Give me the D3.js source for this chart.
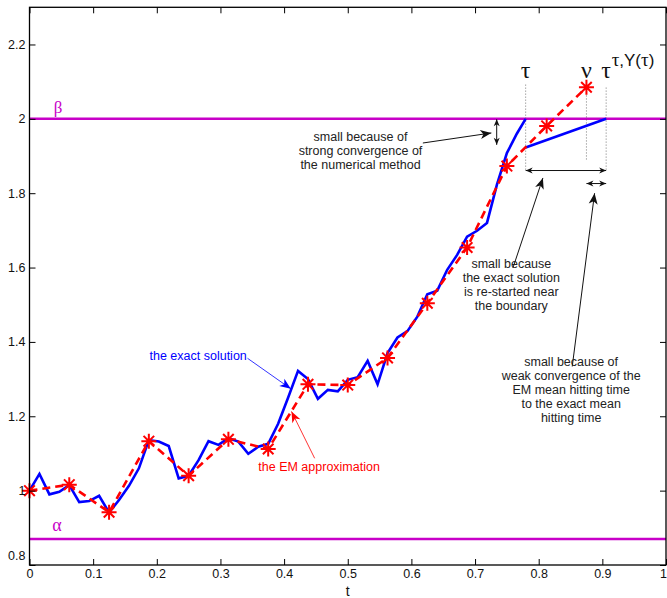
<!DOCTYPE html>
<html>
<head>
<meta charset="utf-8">
<script src="https://cdn.jsdelivr.net/npm/d3@7"></script>
<style>
  body { margin: 0; background: #fff; }
  svg { display: block; font-family: "Liberation Sans", Arial, Helvetica, sans-serif; }
</style>
</head>
<body>
<div id="general"></div>
<script>
const w = 667, h = 598;
const m = { l: 29.5, r: 1, t: 7.3, b: 33 };
m.w = w - m.l - m.r;
m.h = h - m.t - m.b;

// axes
const xTicks = [0, 0.1, 0.2, 0.3, 0.4, 0.5, 0.6, 0.7, 0.8, 0.9, 1];
const yTicks = [0.8, 1, 1.2, 1.4, 1.6, 1.8, 2, 2.2];

// boundaries
const alpha = 0.87;
const beta = 2;

// exact solution, sampled every 1/64
const exactDt = 1 / 64;
const exactY = [1.000, 1.045, 0.990, 0.997, 1.015, 0.969, 0.972, 0.986, 0.941, 0.975,
                1.013, 1.060, 1.136, 1.132, 1.120, 1.033, 1.040, 1.082, 1.133, 1.123,
                1.141, 1.132, 1.099, 1.118, 1.126, 1.180, 1.250, 1.322, 1.300, 1.247,
                1.271, 1.267, 1.298, 1.305, 1.349, 1.286, 1.370, 1.412, 1.429, 1.468,
                1.528, 1.538, 1.594, 1.634, 1.683, 1.699, 1.720, 1.823, 1.908, 1.960];
const tau = 0.7795;          // exact hitting time
// exact solution re-started near the boundary
const restartT = [0.7795, 0.906];
const restartY = [1.923, 2.0];

// EM approximation, step 1/16
const emDt = 1 / 16;
const emY = [1.000, 1.016, 0.942, 1.133, 1.040, 1.138, 1.112, 1.286, 1.284, 1.357,
             1.504, 1.654, 1.873, 1.981, 2.085];
const nu = 0.875;            // EM hitting time
const tauRestart = 0.906;    // hitting time of restarted solution

function setup() {
  const svg = d3.select("#general").append("svg").attr("width", w).attr("height", h);

  const x = d3.scaleLinear().domain([0, 1]).range([m.l, m.l + m.w]);
  const y = d3.scaleLinear().domain([0.8, 2.3]).range([m.t + m.h, m.t]);

  const defs = svg.append("defs");
  const mk = (id, col) => defs.append("marker").attr("id", id)
    .attr("viewBox", "-12 -6 14 12").attr("refX", 0).attr("refY", 0)
    .attr("markerWidth", 14).attr("markerHeight", 12).attr("markerUnits", "userSpaceOnUse")
    .attr("orient", "auto-start-reverse")
    .append("path").attr("d", "M0,0 L-11,-4.5 L-8,0 L-11,4.5 Z").attr("fill", col);
  mk("ak", "#111");
  mk("ab", "#0000ff");
  mk("ar", "#ff0000");
  defs.append("marker").attr("id", "sk")
    .attr("viewBox", "-8 -4 9 8").attr("refX", 0).attr("refY", 0)
    .attr("markerWidth", 9).attr("markerHeight", 8).attr("markerUnits", "userSpaceOnUse")
    .attr("orient", "auto-start-reverse")
    .append("path").attr("d", "M0,0 L-7,-3 L-5,0 L-7,3 Z").attr("fill", "#111");

  // boundaries
  svg.append("g").selectAll("line").data([alpha, beta]).join("line")
    .attr("x1", x(0)).attr("x2", x(1)).attr("y1", d => y(d)).attr("y2", d => y(d))
    .attr("stroke", "#c800c8").attr("stroke-width", 2.5);
  svg.append("text").attr("x", x(0.045)).attr("y", y(beta) - 6)
    .attr("text-anchor", "middle").attr("font-family", "Liberation Serif, serif")
    .attr("font-size", 17).attr("fill", "#c800c8").text("β");
  svg.append("text").attr("x", x(0.043)).attr("y", y(alpha) - 8)
    .attr("text-anchor", "middle").attr("font-family", "Liberation Serif, serif")
    .attr("font-size", 18).attr("fill", "#c800c8").text("α");

  // dotted time markers
  const dots = [[tau, 2.092, 1.862], [nu, 2.079, 1.890], [tauRestart, 2.084, 1.862]];
  svg.append("g").selectAll("line").data(dots).join("line")
    .attr("x1", d => x(d[0])).attr("x2", d => x(d[0]))
    .attr("y1", d => y(d[1])).attr("y2", d => y(d[2]))
    .attr("stroke", "#555").attr("stroke-width", 0.8).attr("stroke-dasharray", "1,2");

  const line = d3.line().x(d => x(d[0])).y(d => y(d[1]));
  const exactPts = exactY.map((v, i) => [i * exactDt, v]).concat([[tau, beta]]);
  const emPts = emY.map((v, i) => [i * emDt, v]);

  svg.append("path").attr("d", line(exactPts)).attr("fill", "none")
    .attr("stroke", "#0000ff").attr("stroke-width", 2.6).attr("stroke-linejoin", "miter");
  svg.append("path").attr("d", line(restartT.map((t, i) => [t, restartY[i]]))).attr("fill", "none")
    .attr("stroke", "#0000ff").attr("stroke-width", 2.6);

  svg.append("path").attr("d", line(emPts)).attr("fill", "none")
    .attr("stroke", "#ff0000").attr("stroke-width", 2.6).attr("stroke-dasharray", "8,5");

  const r = 7.5, dd = 5.3;
  svg.append("g").selectAll("path").data(emPts).join("path")
    .attr("d", d => {
      const cx = x(d[0]), cy = y(d[1]);
      return `M${cx - r},${cy}h${2 * r}M${cx},${cy - r}v${2 * r}` +
        `M${cx - dd},${cy - dd}l${2 * dd},${2 * dd}M${cx - dd},${cy + dd}l${2 * dd},${-2 * dd}`;
    })
    .attr("stroke", "#ff0000").attr("stroke-width", 2);

  // annotation arrows [t1, y1, t2, y2, colour, marker, double, width]
  const arrows = [
    [0.618, 1.935, 0.7256, 1.962, "#111", "ak", false, 1],
    [0.7340, 1.999, 0.7340, 1.930, "#111", "sk", true, 1],
    [tau, 1.861, tauRestart, 1.861, "#111", "sk", true, 1],
    [nu, 1.826, tauRestart, 1.826, "#111", "sk", true, 1],
    [0.7595, 1.599, 0.8066, 1.841, "#111", "ak", false, 1],
    [0.8527, 1.334, 0.8878, 1.800, "#111", "ak", false, 1],
    [0.3425, 1.356, 0.4105, 1.274, "#0000ff", "ab", false, 0.8],
    [0.4480, 1.087, 0.4116, 1.213, "#ff0000", "ar", false, 0.8]
  ];
  svg.append("g").selectAll("line").data(arrows).join("line")
    .attr("x1", d => x(d[0])).attr("y1", d => y(d[1]))
    .attr("x2", d => x(d[2])).attr("y2", d => y(d[3]))
    .attr("stroke", d => d[4]).attr("stroke-width", d => d[7])
    .attr("marker-end", d => `url(#${d[5]})`)
    .attr("marker-start", d => d[6] ? `url(#${d[5]})` : null);

  // annotation texts
  const notes = [
    { t: 0.52, y: 1.952, c: "#222", lines: ["small because of", "strong convergence of", "the numerical method"] },
    { t: 0.757, y: 1.610, c: "#222", lines: ["small because", "the exact solution", "is re-started near", "the boundary"] },
    { t: 0.851, y: 1.346, c: "#222", lines: ["small because of", "weak convergence of the", "EM mean hitting time", "to the exact mean", "hitting time"] },
    { t: 0.265, y: 1.363, c: "#0000ff", lines: ["the exact solution"] },
    { t: 0.455, y: 1.066, c: "#ff0000", lines: ["the EM approximation"] }
  ];
  notes.forEach(n => {
    const tx = svg.append("text").attr("text-anchor", "middle").attr("font-size", 12.5).attr("fill", n.c);
    n.lines.forEach((s, i) => tx.append("tspan").attr("x", x(n.t)).attr("y", y(n.y) + 4.5 + i * 13.9).text(s));
  });

  // hitting time labels
  const g1 = svg.append("g").attr("font-family", "Liberation Serif, serif").attr("font-size", 24).attr("fill", "#111");
  g1.append("text").attr("x", x(tau)).attr("y", y(2.3) + 71).attr("text-anchor", "middle").text("τ");
  g1.append("text").attr("x", x(nu)).attr("y", y(2.3) + 71).attr("text-anchor", "middle").text("ν");
  g1.append("text").attr("x", x(tauRestart)).attr("y", y(2.3) + 71).attr("text-anchor", "middle").text("τ");
  svg.append("text").attr("x", x(tauRestart) + 5.5).attr("y", y(2.3) + 59)
    .attr("font-size", 17).attr("fill", "#111")
    .html('<tspan font-family="Liberation Serif, serif" font-size="19">τ</tspan>,Y(<tspan font-family="Liberation Serif, serif" font-size="19">τ</tspan>)');

  // frame and axes
  svg.append("rect").attr("x", m.l).attr("y", m.t).attr("width", m.w).attr("height", m.h)
    .attr("fill", "none").attr("stroke", "#000").attr("stroke-width", 1.3);

  const fmt = d3.format("~g");
  const ax = svg.append("g").attr("transform", `translate(0,${m.t + m.h})`)
    .call(d3.axisBottom(x).tickValues(xTicks).tickSize(-6).tickPadding(4).tickFormat(fmt));
  const ay = svg.append("g").attr("transform", `translate(${m.l},0)`)
    .call(d3.axisLeft(y).tickValues(yTicks).tickSize(-6).tickPadding(4).tickFormat(fmt));
  svg.append("g").attr("transform", `translate(0,${m.t})`)
    .call(d3.axisTop(x).tickValues(xTicks).tickSize(-6).tickFormat(""));
  svg.append("g").attr("transform", `translate(${m.l + m.w},0)`)
    .call(d3.axisRight(y).tickValues(yTicks).tickSize(-6).tickFormat(""));
  svg.selectAll(".domain").remove();
  svg.selectAll(".tick line").attr("stroke", "#000").attr("stroke-width", 1);
  svg.selectAll(".tick text").attr("font-size", 12.5).attr("fill", "#111")
    .attr("font-family", "Liberation Sans, Arial, sans-serif");
  ay.selectAll(".tick text").filter(d => d === 0.8).attr("dy", "-0.45em");
  // keep the last x label inside the window
  ax.selectAll(".tick text").filter(d => d === 1).attr("text-anchor", "end").attr("x", 0.5);

  svg.append("text").attr("x", x(0.5)).attr("y", h - 2)
    .attr("text-anchor", "middle").attr("font-size", 14).attr("fill", "#111").text("t");
}
setup();
</script>
</body>
</html>
